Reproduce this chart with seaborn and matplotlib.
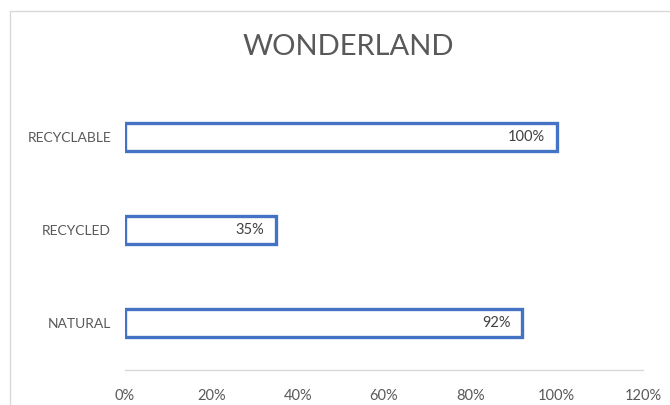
import matplotlib
matplotlib.use("Agg")
import matplotlib.pyplot as plt
import seaborn as sns
import pandas as pd
from matplotlib.patches import Rectangle
from matplotlib.ticker import FuncFormatter, MultipleLocator

categories = ["RECYCLABLE", "RECYCLED", "NATURAL"]
values = [1.00, 0.35, 0.92]
value_labels = ["100%", "35%", "92%"]
title = "WONDERLAND"

sns.set_theme(style="white")
plt.rcParams['font.family'] = ['Lato', 'DejaVu Sans']

df = pd.DataFrame({"category": categories, "value": values})

fig = plt.figure(figsize=(6.7, 4.05), dpi=100)
ax = fig.add_axes([125/670, 1-369.5/405, (643-125)/670, (369.5-90.5)/405])

sns.barplot(data=df, x="value", y="category", orient="h", ax=ax,
            color="white", edgecolor="#4472C4", linewidth=2.4, width=0.3)

ax.set_xlim(0, 1.2)
ax.set_ylim(2.5, -0.5)
ax.xaxis.set_major_locator(MultipleLocator(0.2))
ax.xaxis.set_major_formatter(FuncFormatter(lambda v, p: f"{v*100:.0f}%"))
ax.set_xlabel("")
ax.set_ylabel("")
for s in ["top", "right", "left"]:
    ax.spines[s].set_visible(False)
ax.spines["bottom"].set_color("#D9D9D9")
ax.spines["bottom"].set_linewidth(1.0)
ax.tick_params(axis="x", colors="#595959", labelsize=10.5, length=0, pad=14)
ax.tick_params(axis="y", colors="#595959", labelsize=10, length=0, pad=10)

for i, (v, lab) in enumerate(zip(values, value_labels)):
    ax.annotate(lab, xy=(v, i), xytext=(-8.5, 0), textcoords="offset points",
                ha="right", va="center", fontsize=10.5, color="#404040")

fig.text(348/670, 1-47/405, title, ha="center", va="center",
         fontsize=21, color="#595959")

fig.patches.append(Rectangle((10/670, -0.1), 1.0, 1-11/405+0.1,
                             transform=fig.transFigure, fill=False,
                             edgecolor="#D9D9D9", linewidth=1.0))

fig.savefig("out.png", dpi=100)
